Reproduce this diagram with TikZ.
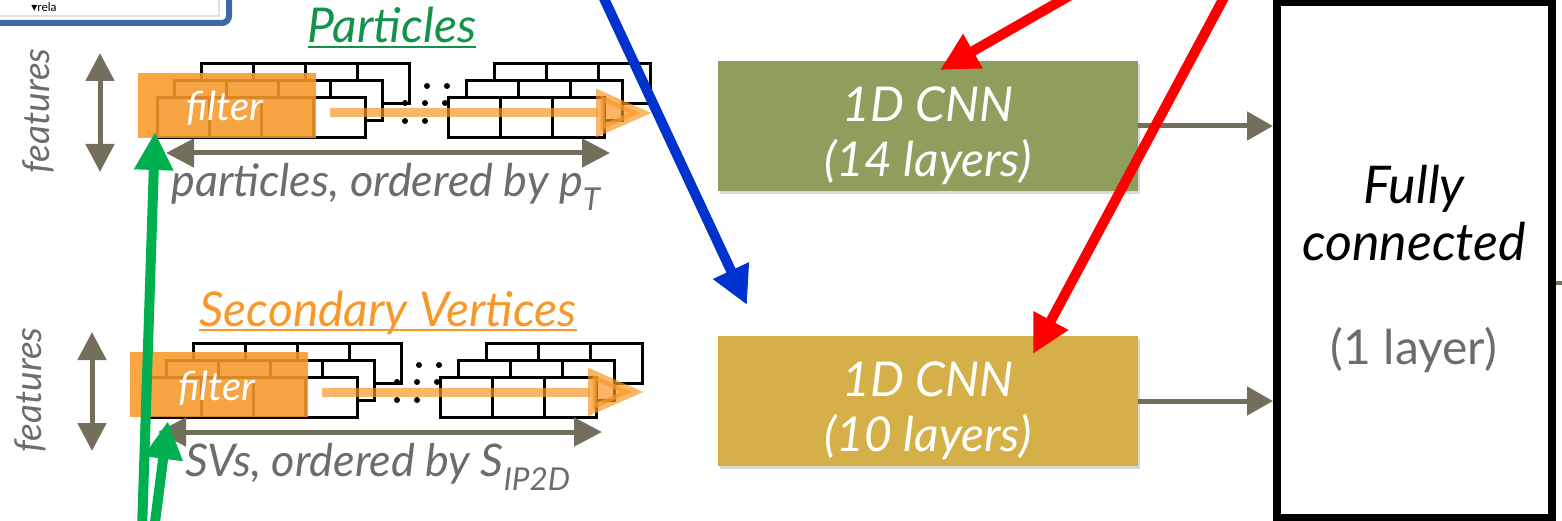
\documentclass[tikz,border=0pt]{standalone}
\usepackage{fontspec}
\setmainfont{Lato}
\newfontfamily\glyphfont{DejaVu Sans}
\usetikzlibrary{arrows.meta,shadows}

\definecolor{cnngreen}{RGB}{141,158,93}
\definecolor{cnngold}{RGB}{213,176,72}
\definecolor{axisgray}{RGB}{116,111,92}
\definecolor{labelgray}{RGB}{108,108,108}
\definecolor{filterorange}{RGB}{247,152,40}
\definecolor{partgreen}{RGB}{20,146,76}
\definecolor{frameblue}{RGB}{60,106,168}
\definecolor{annblue}{RGB}{0,50,205}
\definecolor{annred}{RGB}{255,0,0}
\definecolor{anngreen}{RGB}{0,176,80}

% one row of #3 cells, top left corner at (#1,#2)
\newcommand{\cellrow}[3]{%
  \foreach \k in {1,...,#3}
    \draw[cell] ({#1+52*(\k-1)},#2) rectangle ++(52,40);%
}

\tikzset{
  cell/.style={draw=black,fill=white,line width=3pt},
  cnn/.style={minimum width=420pt,minimum height=130pt,inner sep=0pt,align=center,
    text=white,font=\itshape\fontsize{48}{55}\selectfont,
    drop shadow={shadow xshift=2pt,shadow yshift=-3pt,opacity=0.3}},
  axis/.style={axisgray,line width=5pt,{Triangle[length=28pt,width=28pt]}-{Triangle[length=28pt,width=28pt]}},
  flow/.style={axisgray,line width=5pt,-{Triangle[length=26pt,width=28pt]}},
  scan/.style={filterorange,opacity=0.7,line width=9pt,-{Triangle[length=56pt,width=46pt]}},
  pointer/.style={line width=10pt,-{Triangle[length=38pt,width=37pt]}},
  heading/.style={font=\itshape\fontsize{48}{48}\selectfont,anchor=base,inner sep=0pt},
  sortlabel/.style={labelgray,font=\itshape\fontsize{45}{45}\selectfont,anchor=base,inner sep=0pt},
  featlabel/.style={labelgray,font=\itshape\fontsize{37}{37}\selectfont,rotate=90,inner sep=0pt}
}

\begin{document}
\begin{tikzpicture}[x=1pt,y=-1pt]
  \useasboundingbox (0,0) rectangle (1562,521);

  % corner of the frame above
  \draw[frameblue,line width=6pt,rounded corners=7pt,fill=white] (-20,-20) rectangle (229,23);
  \draw[black!12,line width=1.5pt] (-20,-20) rectangle (219,16);
  \node[font=\fontsize{12}{12}\selectfont,anchor=base,inner sep=0pt] (ctxlabel) at (44,12) {{\glyphfont ▾}rela};

  % titles
  \node[heading,partgreen] (parttitle) at (392,43) {Particles};
  \draw[partgreen,line width=2.5pt] ([yshift=-4pt]parttitle.base west) -- ([yshift=-4pt]parttitle.base east);
  \node[heading,filterorange] (svtitle) at (388,326) {Secondary Vertices};
  \draw[filterorange,line width=2.5pt] ([yshift=-4pt]svtitle.base west) -- ([yshift=-4pt]svtitle.base east);

  % input grids with the sliding filter
  \foreach \i/\gx/\gy/\txt in {1/0/0/{particles, ordered by p\textsubscript{T}},
                               2/-8/279/{SVs, ordered by S\textsubscript{IP2D}}}
  {
    \begin{scope}[shift={(\gx,\gy)}]
      \foreach \lx/\ly/\rx in {201/64/494,174/81/466,157/98/448}
      {
        \cellrow{\lx}{\ly}{4}
        \cellrow{\rx}{\ly}{3}
      }
      \foreach \dx/\dy in {427/86,447/86,405/103,425/103,445/103,405/121,425/121}
        \fill (\dx,\dy) circle (3);
      \fill[filterorange,opacity=0.88] (138,73) rectangle (316,138);
      \node[white,font=\itshape\fontsize{40}{40}\selectfont,anchor=base,inner sep=0pt] (filter\i) at (225,121) {filter};
      \coordinate (scanA\i) at (330,113);
      \coordinate (scanB\i) at (652,113);
      \draw[scan] (scanA\i) -- (scanB\i);
      \coordinate (featA\i) at (100,53);
      \coordinate (featB\i) at (100,172);
      \draw[axis] (featA\i) -- (featB\i);
      \node[featlabel] (feat\i) at (38,111) {features};
      \coordinate (sortA\i) at (166,153);
      \coordinate (sortB\i) at (610,153);
      \draw[axis] (sortA\i) -- (sortB\i);
      \node[sortlabel] (sort\i) at (386,197) {\txt};
    \end{scope}
  }

  % 1D convolution stacks
  \node[cnn,fill=cnngreen] (cnnpart) at (928,126) {\rule{0pt}{54pt}1D CNN\\(14 layers)};
  \node[cnn,fill=cnngold] (cnnsv) at (928,401) {\rule{0pt}{54pt}1D CNN\\(10 layers)};

  % dense layer
  \node[draw=black,line width=8pt,minimum width=275pt,minimum height=516pt,inner sep=0pt] (fc) at (1414.5,260) {};
  \node[font=\itshape\fontsize{52}{57}\selectfont,align=center,inner sep=0pt] (fctitle) at (1414,213) {Fully\\connected};
  \node[labelgray,font=\fontsize{48}{48}\selectfont,inner sep=0pt] (fcsize) at (1414,350) {(1 layer)};

  \draw[flow] (cnnpart.east) -- (fc.west |- cnnpart.east);
  \draw[flow] (cnnsv.east) -- (fc.west |- cnnsv.east);
  \draw[axisgray,line width=4pt] ([yshift=-23pt]fc.east) -- ++(14,0);

  % annotation arrows
  \coordinate (blue0) at (601,-8);
  \coordinate (blue1) at (747,305);
  \draw[pointer,annblue] (blue0) -- (blue1);
  \coordinate (redA0) at (1076,-8);
  \coordinate (redA1) at (940,70);
  \draw[pointer,annred] (redA0) -- (redA1);
  \coordinate (redB0) at (1227,-8);
  \coordinate (redB1) at (1033,354);
  \draw[pointer,annred] (redB0) -- (redB1);
  \coordinate (greenA0) at (142,530);
  \coordinate (greenA1) at (155,132);
  \draw[pointer,anngreen] (greenA0) -- (greenA1);
  \coordinate (greenB0) at (154,530);
  \coordinate (greenB1) at (168,421);
  \draw[pointer,anngreen] (greenB0) -- (greenB1);
\end{tikzpicture}
\end{document}
